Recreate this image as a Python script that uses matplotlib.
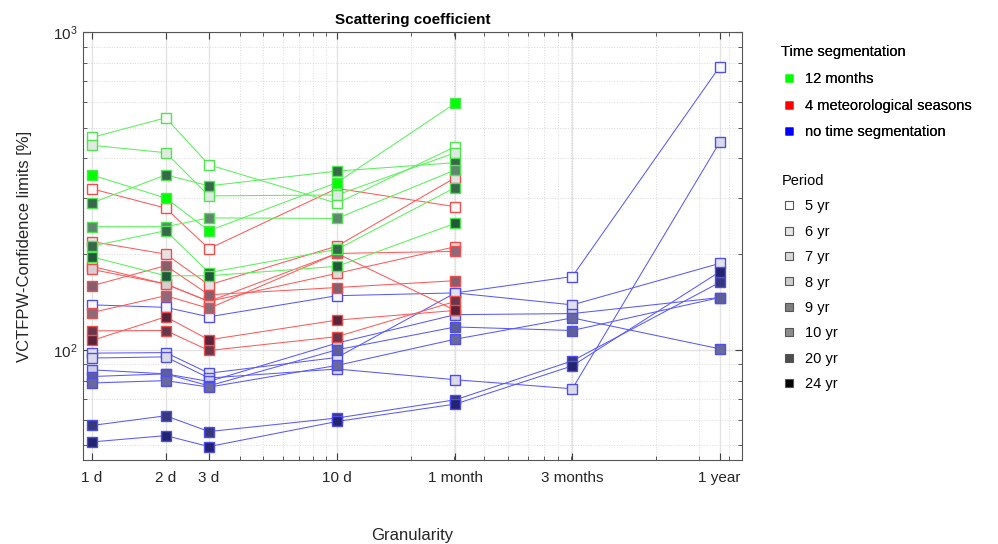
import numpy as np
import matplotlib
matplotlib.use('Agg')
import matplotlib.pyplot as plt
from matplotlib.lines import Line2D
from matplotlib.ticker import FixedLocator, LogLocator, NullFormatter

plt.rcParams['font.family'] = ['Liberation Sans', 'DejaVu Sans']

# granularity in days
granularity = [1, 2, 3, 10, 30.4, 91.3, 365]
granularity_labels = ['1 d', '2 d', '3 d', '10 d', '1 month', '3 months', '1 year']

periods = ['5 yr', '6 yr', '7 yr', '8 yr', '9 yr', '10 yr', '20 yr', '24 yr']

# 12 months segmentation (1 d .. 1 month)
green_periods = ['5 yr', '6 yr', None, '20 yr', '9 yr', '20 yr', '24 yr']
green_values = [
    [466, 537, 382, 289, 436],
    [440, 417, 305, 307, 417],
    [355, 300, 237, 336, 597],
    [290, 355, 328, 365, 388],
    [244, 244, 260, 259, 368],
    [212, 237, 175, 207, 324],
    [196, 171, 171, 183, 250],
]

# 4 meteorological seasons (1 d .. 1 month)
red_periods = ['5 yr', '6 yr', '7 yr', '8 yr', '9 yr', '10 yr', '20 yr', '24 yr']
red_values = [
    [321, 279, 208, 322, 282],
    [219, 200, 160, 212, 348],
    [183, 161, 142, 174, 211],
    [179, 161, 142, 201, 133],
    [159, 184, 149, 157, 165],
    [131, 148, 135, 201, 204],
    [114.7, 115, 99.5, 110, 142],
    [107, 127, 107.5, 124, 133],
]

# no time segmentation (1 d .. 1 year)
blue_periods = ['5 yr', '6 yr', '7 yr', '8 yr', '9 yr', '10 yr', '20 yr', '24 yr']
blue_values = [
    [138.5, 136, 127, 148, 151, 170, 778],
    [97.6, 98, 84.4, 94.6, 151, 138.5, 187],
    [94.2, 95, 81.5, 87, 80.5, 75.4, 450],
    [86.5, 84, 79.5, 105, 129, 130, 146],
    [82.4, 84, 77, 100, 118, 115, 146],
    [78.6, 80, 76.3, 89.3, 108, 126, 100.7],
    [57.8, 62, 55.3, 61, 69.6, 92.3, 163],
    [51.3, 53.7, 49.6, 59.5, 67.5, 89, 176],
]

shade_chart = {'5 yr': 0.97, '6 yr': 0.88, '7 yr': 0.85, '8 yr': 0.8,
               '9 yr': 0.36, '10 yr': 0.4, '20 yr': 0.2, '24 yr': 0.12}
shade_legend = {'5 yr': 1.0, '6 yr': 0.9, '7 yr': 0.85, '8 yr': 0.8,
                '9 yr': 0.5, '10 yr': 0.55, '20 yr': 0.3, '24 yr': 0.0}


def face(col, period):
    c = np.array(col)
    if period is None:
        return tuple(c)
    s = shade_chart[period]
    f = s + (1 - s) * (0.24 * c + np.array([0.02, 0.02, 0.12]))
    return tuple(np.clip(f, 0, 1))


groups = [
    ((0, 0, 1), (0.35, 0.35, 1.0), (0.3, 0.3, 0.95), blue_periods, blue_values),
    ((1, 0, 0), (1.0, 0.35, 0.35), (0.95, 0.3, 0.3), red_periods, red_values),
    ((0, 1, 0), (0.35, 0.95, 0.35), (0.3, 0.9, 0.3), green_periods, green_values),
]

fig = plt.figure(figsize=(9.98, 5.44), dpi=100)
ax = fig.add_axes([0.0832, 0.1544, 0.6603, 0.7868])

for base, lcol, ecol, pers, vals in groups:
    for per, v in zip(pers, vals):
        ax.plot(granularity[:len(v)], v, '-', color=lcol, lw=0.75, zorder=2)
        ax.plot(granularity[:len(v)], v, 's', ms=6.5, mfc=face(base, per),
                mec=ecol, mew=1.0, zorder=3)

ax.set_xscale('log')
ax.set_yscale('log')
ax.set_xlim(0.919, 450)
ax.set_ylim(45, 1000)

ax.xaxis.set_major_locator(FixedLocator(granularity))
ax.set_xticklabels(granularity_labels)
ax.xaxis.set_minor_locator(LogLocator(base=10, subs=np.arange(2, 10), numticks=20))
ax.xaxis.set_minor_formatter(NullFormatter())
ax.yaxis.set_minor_locator(LogLocator(base=10, subs=np.arange(2, 10), numticks=20))
ax.yaxis.set_minor_formatter(NullFormatter())

ax.tick_params(which='both', direction='in', top=True, right=True, colors='#404040',
               labelcolor='#262626', labelsize=11)
ax.tick_params(axis='x', which='major', pad=8, length=5)
ax.tick_params(axis='y', which='major', pad=4, length=5)
ax.tick_params(which='minor', length=3)

ax.grid(True, which='major', color='#e3e3e3', lw=1.0, zorder=0)
ax.grid(True, which='minor', color='#dadada', lw=0.7, ls=':', zorder=0)
ax.set_axisbelow(True)
for sp in ax.spines.values():
    sp.set_color('#555555')

ax.set_title('Scattering coefficient', fontsize=11, fontweight='bold', pad=6)
ax.set_xlabel('Granularity', fontsize=12, color='#262626', labelpad=31)
ax.set_ylabel('VCTFPW-Confidence limits [%]', fontsize=12, color='#262626', labelpad=15)

# legends
seg_handles = [Line2D([], [], ls='none', marker='s', ms=6, mfc=c, mec='none')
               for c in [(0, 1, 0), (1, 0, 0), (0, 0, 1)]]
seg_labels = ['12 months', '4 meteorological seasons', 'no time segmentation']
leg1 = fig.legend(seg_handles, seg_labels, title='Time segmentation', loc='upper left',
                  bbox_to_anchor=(0.783, 0.918), frameon=False, fontsize=10.5,
                  title_fontsize=10.5, handlelength=1.0, handletextpad=0.65,
                  labelspacing=0.85, borderaxespad=0, borderpad=0, alignment='left')
leg1._legend_box.sep = 10

per_handles = [Line2D([], [], ls='none', marker='s', ms=5.5,
                      mfc=str(shade_legend[p]), mec='#555555', mew=0.8) for p in periods]
leg2 = fig.legend(per_handles, periods, title='Period', loc='upper left',
                  bbox_to_anchor=(0.783, 0.68), frameon=False, fontsize=10.5,
                  title_fontsize=10.5, handlelength=1.0, handletextpad=0.65,
                  labelspacing=0.78, borderaxespad=0, borderpad=0, alignment='left')
fig.add_artist(leg1)

fig.savefig('out.png', dpi=100)
